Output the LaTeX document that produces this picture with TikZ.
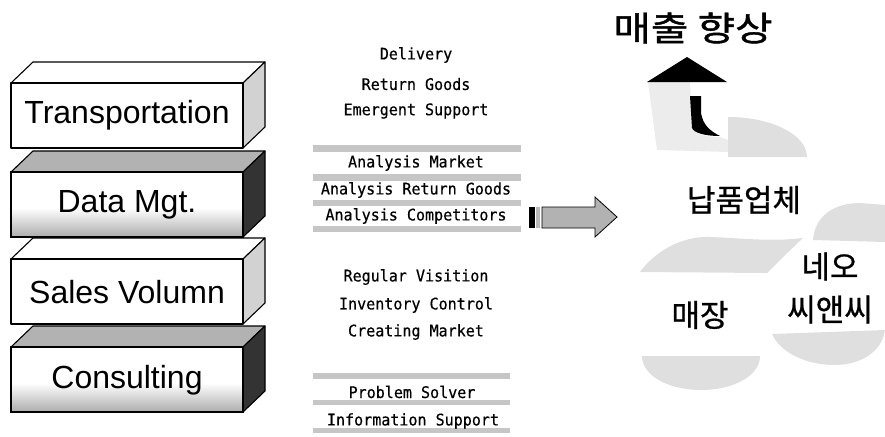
\documentclass[tikz,border=0pt]{standalone}
\usepackage{fontspec}
\setmainfont{Liberation Sans}
\newfontfamily\monofont{DejaVu Sans Mono}[FakeBold=0.5, FakeStretch=0.94]
\newfontfamily\kfont{Noto Sans CJK KR}[FakeBold=0.8]
\newfontfamily\kfontbig{Noto Sans CJK KR}[FakeBold=1.2, FakeStretch=1.2]
\usetikzlibrary{shapes,arrows,positioning}
\tikzstyle{lighttop} = [draw=black, line width=1.1pt, fill=white, line join=round]
\tikzstyle{lightside} = [draw=black, line width=1.1pt, fill=gray!35, line join=round]
\tikzstyle{darktop} = [draw=black, line width=1.1pt, fill=gray!60, line join=round]
\tikzstyle{darkside} = [draw=black, line width=1.1pt, fill=black!80, line join=round]
\tikzstyle{blocktext} = [font=\fontsize{32}{36}\selectfont]
\tikzstyle{itemtext} = [font=\monofont\fontsize{16}{18}\selectfont, inner sep=0pt]
\tikzstyle{band} = [fill=gray!45]
\tikzstyle{cloudcap} = [fill=gray!25]
\tikzstyle{ktext} = [font=\kfont\fontsize{31}{43}\selectfont, align=center]

\begin{document}
\begin{tikzpicture}[x=1pt, y=-1pt]
            \useasboundingbox (0,0) rectangle (885,436);

            \draw[lighttop] (11,83) -- (33,62) -- (265,62) -- (243,83) -- cycle;
            \draw[lightside] (243,83) -- (265,62) -- (265,127) -- (243,148) -- cycle;
            \draw[lighttop] (11,83) rectangle (243,148);
            \node[blocktext] (trans) at (127,115) {Transportation};

            \draw[darktop] (11,172) -- (33,151) -- (265,151) -- (243,172) -- cycle;
            \draw[darkside] (243,172) -- (265,151) -- (265,216) -- (243,237) -- cycle;
            \fill[white] (11,172) rectangle (243,237);
            \shade[top color=white, bottom color=gray!65] (11,208) rectangle (243,237);
            \draw[line width=1.1pt] (11,172) rectangle (243,237);
            \node[blocktext] (data) at (127,205) {Data Mgt.};

            \draw[lighttop] (11,259) -- (33,238) -- (265,238) -- (243,259) -- cycle;
            \draw[lightside] (243,259) -- (265,238) -- (265,303) -- (243,324) -- cycle;
            \draw[lighttop] (11,259) rectangle (243,324);
            \node[blocktext] (sales) at (127,292) {Sales Volumn};

            \draw[darktop] (11,347) -- (33,326) -- (265,326) -- (243,347) -- cycle;
            \draw[darkside] (243,347) -- (265,326) -- (265,391) -- (243,412) -- cycle;
            \fill[white] (11,347) rectangle (243,412);
            \shade[top color=white, bottom color=gray!65] (11,383) rectangle (243,412);
            \draw[line width=1.1pt] (11,347) rectangle (243,412);
            \node[blocktext] (consult) at (127,380) {Consulting};

            \node[itemtext] (deliv) at (416,55) {Delivery};
            \node[itemtext] (retgood) at (416,84) {Return Goods};
            \node[itemtext] (emerg) at (416,111) {Emergent Support};

            \fill[band] (313,145) rectangle (521,152);
            \fill[band] (313,174) rectangle (521,181);
            \fill[band] (313,200) rectangle (521,206);
            \fill[band] (313,226) rectangle (521,232);
            \node[itemtext] (anmarket) at (416,163) {Analysis Market};
            \node[itemtext] (anreturn) at (416,190) {Analysis Return Goods};
            \node[itemtext] (ancomp) at (416,216) {Analysis Competitors};

            \node[itemtext] (visit) at (416,277) {Regular Visition};
            \node[itemtext] (invent) at (416,305) {Inventory Control};
            \node[itemtext] (create) at (416,332) {Creating Market};

            \fill[band] (313,373) rectangle (510,379);
            \fill[band] (313,400) rectangle (510,405);
            \fill[band] (313,428) rectangle (510,433);
            \node[itemtext] (problem) at (412,392) {Problem Solver};
            \node[itemtext] (info) at (413,421) {Information Support};

            \fill[black] (529,207) rectangle (535,228);
            \fill[gray!55] (536,207) rectangle (540,228);
            \draw[fill=gray!60, line width=0.8pt, line join=miter] (542,207) -- (595,207) -- (595,197) -- (617,217) -- (595,237) -- (595,228) -- (542,228) -- cycle;

            \node[font=\kfontbig\fontsize{34}{40}\selectfont] (rise) at (693,28) {매출 향상};

            \fill[gray!15] (648,82) -- (690,82) -- (692,128) .. controls (696,135) and (706,137) .. (720,137) -- (728,140) -- (728,152) -- (657,150) -- cycle;
            \fill[black] (690,96) -- (701,96) -- (701,113) .. controls (703,125) and (710,131) .. (720,136) .. controls (705,136) and (694,133) .. (692,128) -- cycle;
            \fill[black] (647,82) -- (687,57) -- (727,82) -- cycle;
            \fill[cloudcap] (728,157) -- (728,117) .. controls (772,117) and (807,135) .. (807,157) -- cycle;

            \node[ktext] (vendor) at (744,200) {납품업체};
            \fill[cloudcap] (640,272) .. controls (660,245) and (690,236) .. (710,237) .. controls (740,238) and (770,242) .. (803,238) .. controls (790,250) and (778,262) .. (767,273) -- cycle;
            \fill[cloudcap] (813,240) .. controls (815,215) and (835,203) .. (860,203) -- (885,205) -- (885,242) -- cycle;

            \node[ktext] (store) at (700,315) {매장};
            \fill[cloudcap] (642,356) -- (760,356) .. controls (760,376) and (733,390) .. (701,390) .. controls (669,390) and (642,376) .. (642,356) -- cycle;

            \node[ktext] (neo) at (830,288) {네오\\씨앤씨};
            \fill[cloudcap] (772,334) -- (885,330) .. controls (882,352) and (860,365) .. (835,365) .. controls (805,365) and (780,352) .. (772,334) -- cycle;
        \end{tikzpicture}
\end{document}
